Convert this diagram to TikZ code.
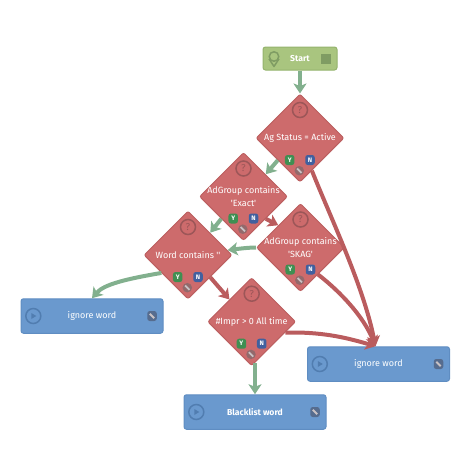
\documentclass[tikz,border=0pt]{standalone}
\usepackage{fontspec}
\usepackage{xcolor}
\usepackage{tikz}
\usetikzlibrary{shapes.geometric,arrows.meta}
\newfontfamily\labelfont{Fira Sans}
\definecolor{condfill}{HTML}{CD6B6C}
\definecolor{condline}{HTML}{BC5F60}
\definecolor{condicon}{HTML}{9C5658}
\definecolor{actfill}{HTML}{6A99CE}
\definecolor{actline}{HTML}{5F8DC2}
\definecolor{acticon}{HTML}{517DB0}
\definecolor{startfill}{HTML}{A9C57F}
\definecolor{startline}{HTML}{94B36D}
\definecolor{starticon}{HTML}{7F9C63}
\definecolor{yesline}{HTML}{82B08E}
\definecolor{noline}{HTML}{BA5C5E}
\definecolor{yesfill}{HTML}{3F8F52}
\definecolor{nofill}{HTML}{41609F}
\definecolor{penfill}{HTML}{93696B}
\definecolor{penfillact}{HTML}{566C8E}
\definecolor{penglyph}{HTML}{C9C2C4}

\begin{document}
\begin{tikzpicture}[
    x=1pt, y=-1pt,
    font=\labelfont\fontsize{9}{12.4}\selectfont,
    cond/.style={
      diamond, aspect=1, minimum width=88pt, minimum height=88pt, inner sep=0pt,
      fill=condfill, draw=condline, line width=1pt, rounded corners=2pt
    },
    act/.style={
      rectangle, minimum width=142pt, minimum height=34.5pt, inner sep=0pt,
      fill=actfill, draw=actline, line width=1pt, rounded corners=2.5pt
    },
    starter/.style={
      rectangle, minimum width=74pt, minimum height=23pt, inner sep=0pt,
      fill=startfill, draw=startline, line width=1pt, rounded corners=2.5pt
    },
    caption/.style={text=white, align=center, inner sep=0pt},
    strong/.style={font=\labelfont\fontsize{8.6}{10}\bfseries\selectfont},
    helpring/.style={circle, draw=condicon, line width=1.5pt, minimum size=15pt, inner sep=0pt, text=condicon, font=\labelfont\fontsize{10}{10}\selectfont},
    playring/.style={circle, draw=acticon, line width=1.5pt, minimum size=15pt, inner sep=0pt},
    yesbadge/.style={rectangle, rounded corners=2.5pt, fill=yesfill, minimum width=9.5pt, minimum height=10pt, inner sep=0pt, text=white, font=\labelfont\fontsize{6.5}{6.5}\bfseries\selectfont},
    nobadge/.style={rectangle, rounded corners=2.5pt, fill=nofill, minimum width=9.5pt, minimum height=10pt, inner sep=0pt, text=white, font=\labelfont\fontsize{6.5}{6.5}\bfseries\selectfont},
    penbadge/.style={circle, fill=penfill, minimum size=9.5pt, inner sep=0pt},
    penbox/.style={rectangle, rounded corners=2.5pt, fill=penfillact, minimum width=9.5pt, minimum height=10pt, inner sep=0pt},
    penmark/.style={line width=1.8pt, penglyph},
    yesedge/.style={-{Stealth[length=10pt,width=13pt,inset=2.5pt]}, line width=4pt, yesline},
    noedge/.style={-{Stealth[length=10pt,width=13pt,inset=2.5pt]}, line width=4pt, noline}
  ]
    \useasboundingbox (0,0) rectangle (475,475);

    % start block
    \node[starter] (start) at (300,58.5) {};
    \node[caption, strong] (start-text) at (300,58.5) {Start};
    \node[circle, draw=starticon, line width=1.5pt, minimum size=9.5pt, inner sep=0pt] (start-pin) at (274,56.5) {};
    \draw[starticon, line width=1.5pt, line join=round] (start-pin.205) -- ([yshift=-10pt]start-pin.center) -- (start-pin.335);
    \node[rectangle, fill=starticon, minimum size=10pt, inner sep=0pt] (start-stop) at (326,58.5) {};

    % conditions
    \node[cond] (ag) at (300,138) {};
    \node[cond] (exact) at (243.5,196.5) {};
    \node[cond] (skag) at (300.5,247.5) {};
    \node[cond] (word) at (188,255) {};
    \node[cond] (impr) at (251.7,321.7) {};

    \node[caption] (ag-text) at (ag) {Ag Status = Active};
    \node[caption] (exact-text) at (exact) {AdGroup contains\\'Exact'};
    \node[caption] (skag-text) at (skag) {AdGroup contains\\'SKAG'};
    \node[caption] (word-text) at (word) {Word contains ''};
    \node[caption] (impr-text) at (impr) {\#Impr > 0 All time};

    \foreach \nm in {ag,exact,skag,word,impr} {
      \node[helpring] (\nm-help) at ([yshift=28pt]\nm.center) {?};
      \node[yesbadge] (\nm-yes) at ([shift={(-10.3,22)}]\nm.center) {Y};
      \node[nobadge] (\nm-no) at ([shift={(10,22)}]\nm.center) {N};
      \node[penbadge] (\nm-pen) at ([shift={(-0.7,32.7)}]\nm.center) {};
      \draw[penmark] ([shift={(-2.2,-2.2)}]\nm-pen.center) -- ([shift={(2.2,2.2)}]\nm-pen.center);
    }

    % actions
    \node[act] (ignoreleft) at (92,316) {};
    \node[act] (ignoreright) at (378.5,364) {};
    \node[act] (blacklist) at (255,412) {};

    \node[caption] (ignoreleft-text) at (ignoreleft) {ignore word};
    \node[caption] (ignoreright-text) at (ignoreright) {ignore word};
    \node[caption, strong] (blacklist-text) at (blacklist) {Blacklist word};

    \foreach \nm in {ignoreleft,ignoreright,blacklist} {
      \node[playring] (\nm-play) at ([xshift=-58.7pt]\nm.center) {};
      \fill[acticon] ([shift={(-2,-3)}]\nm-play.center) -- ([shift={(3,0)}]\nm-play.center) -- ([shift={(-2,3)}]\nm-play.center) -- cycle;
      \node[penbox] (\nm-pen) at ([xshift=60pt]\nm.center) {};
      \draw[penmark] ([shift={(-2.2,-2.2)}]\nm-pen.center) -- ([shift={(2.2,2.2)}]\nm-pen.center);
    }

    % connectors
    \draw[yesedge] (start.south) -- (ag.north);
    \draw[yesedge] (ag.south west) -- (exact.north east);
    \draw[yesedge] (exact.south west) -- (word.north east);
    \draw[noedge] (exact.south east) -- (skag.north west);
    \draw[yesedge] (skag.west) .. controls +(-8,0) and +(8,-1) .. (word.7);
    \draw[yesedge] (word.214) .. controls +(-35,6) and +(12,-14) .. (ignoreleft.north);
    \draw[noedge] (word.south east) -- (impr.north west);
    \draw[yesedge] ([yshift=3pt]impr.south -| blacklist.north) -- (blacklist.north);
    \draw[noedge] (ag.290) .. controls +(20,50) and +(-12,-60) .. ([xshift=-3pt]ignoreright.north);
    \draw[noedge] (skag.303) .. controls +(22,17) and +(-12,-30) .. ([xshift=-3pt]ignoreright.north);
    \draw[noedge] (impr.342) .. controls +(35,-1) and +(-30,-9) .. ([xshift=-3pt]ignoreright.north);
  \end{tikzpicture}
\end{document}
